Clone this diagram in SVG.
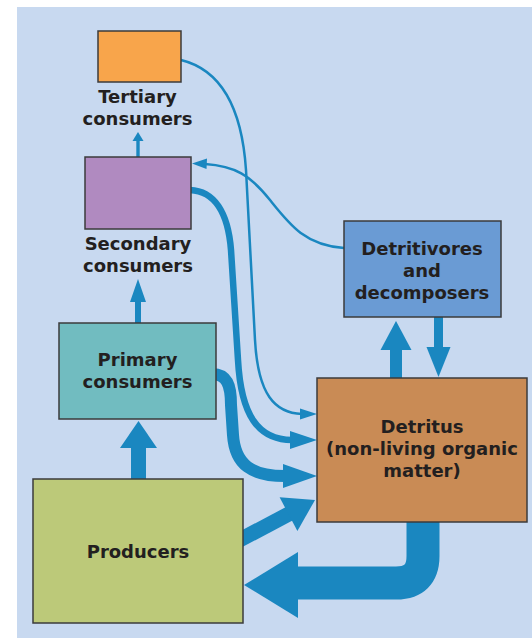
<svg xmlns="http://www.w3.org/2000/svg" width="532" height="638" viewBox="0 0 532 638">
<style>
.box{stroke:#3b3b3b;stroke-width:1.5}
.lbl{font-family:"DejaVu Sans","Liberation Sans",sans-serif;font-weight:bold;font-size:18px;fill:#231f20;text-anchor:middle}
.sh{fill:none;stroke:#1a87c0;stroke-linecap:butt}
.hd{fill:#1a87c0}
</style>
<rect x="0" y="0" width="532" height="638" fill="#ffffff"/>
<rect x="17" y="7" width="515" height="631" fill="#c8d9f0"/>
<g id="connectors">
  <!-- secondary -> tertiary -->
  <path class="sh" d="M138,157 V139" stroke-width="3.4"/>
  <polygon class="hd" points="138,132 132.5,141 143.5,141"/>
  <!-- primary -> secondary -->
  <path class="sh" d="M138,323 V300" stroke-width="6"/>
  <polygon class="hd" points="138,279 130,302 146,302"/>
  <!-- producers -> primary -->
  <path class="sh" d="M138.5,480 V447" stroke-width="15"/>
  <polygon class="hd" points="138.5,421 120,448 157,448"/>
  <!-- detritus -> detritivores -->
  <path class="sh" d="M396,379 V349" stroke-width="12"/>
  <polygon class="hd" points="396,321 380.5,350 411.5,350"/>
  <!-- detritivores -> detritus -->
  <path class="sh" d="M438.5,317 V348" stroke-width="9"/>
  <polygon class="hd" points="438.5,377 426.5,347 450.5,347"/>
  <!-- detritus -> producers (big) -->
  <path class="sh" d="M423,515 V556 Q423,583 396,583 H297" stroke-width="33"/>
  <polygon class="hd" points="244,585 298,552 298,618"/>
  <!-- producers -> detritus -->
  <path class="sh" d="M235.5,542.2 L289.5,513.6" stroke-width="15"/>
  <polygon class="hd" points="315,500 297.4,530.9 279.6,497.3"/>
  <!-- primary -> detritus -->
  <path class="sh" d="M212,374 C227,374 231,385 231,405 L233,435 C235,465 252,476 285,476" stroke-width="12"/>
  <polygon class="hd" points="317,476 283,464 283,488"/>
  <!-- secondary -> detritus -->
  <path class="sh" d="M190,190 C214,191 228,212 231,250 L238,360 C241,415 258,440 292,440" stroke-width="6.5"/>
  <polygon class="hd" points="317,440 290,431 290,449"/>
  <!-- tertiary -> detritus -->
  <path class="sh" d="M181,60 C222,70 242,110 246,170 L255,340 C258,395 275,413 302,414" stroke-width="2.5"/>
  <polygon class="hd" points="317,414 300,408.5 300,419.5"/>
  <!-- detritivores -> secondary -->
  <path class="sh" d="M344,248 C305,245 290,225 270,200 C250,175 235,166 205,164" stroke-width="2.5"/>
  <polygon class="hd" points="192,163.5 207,158.5 206.5,169"/>
</g>
<g id="tertiary">
  <rect class="box" x="98" y="31" width="83" height="51" fill="#f8a54b"/>
  <text class="lbl" x="137.5" y="103">Tertiary</text>
  <text class="lbl" x="137.5" y="125">consumers</text>
</g>
<g id="secondary">
  <rect class="box" x="85" y="157" width="106" height="72" fill="#b08ac0"/>
  <text class="lbl" x="138" y="250">Secondary</text>
  <text class="lbl" x="138" y="272">consumers</text>
</g>
<g id="detritivores">
  <rect class="box" x="344" y="221" width="157" height="96" fill="#6a9bd4"/>
  <text class="lbl" x="422" y="255">Detritivores</text>
  <text class="lbl" x="422" y="277">and</text>
  <text class="lbl" x="422" y="299">decomposers</text>
</g>
<g id="primary">
  <rect class="box" x="59" y="323" width="157" height="96" fill="#71bcc0"/>
  <text class="lbl" x="137.5" y="366">Primary</text>
  <text class="lbl" x="137.5" y="388">consumers</text>
</g>
<g id="producers">
  <rect class="box" x="33" y="479" width="210" height="144" fill="#bcc979"/>
  <text class="lbl" x="138" y="558">Producers</text>
</g>
<g id="detritus">
  <rect class="box" x="317" y="378" width="210" height="144" fill="#c98b55"/>
  <text class="lbl" x="422" y="433">Detritus</text>
  <text class="lbl" x="422" y="455">(non-living organic</text>
  <text class="lbl" x="422" y="477">matter)</text>
</g>
</svg>
